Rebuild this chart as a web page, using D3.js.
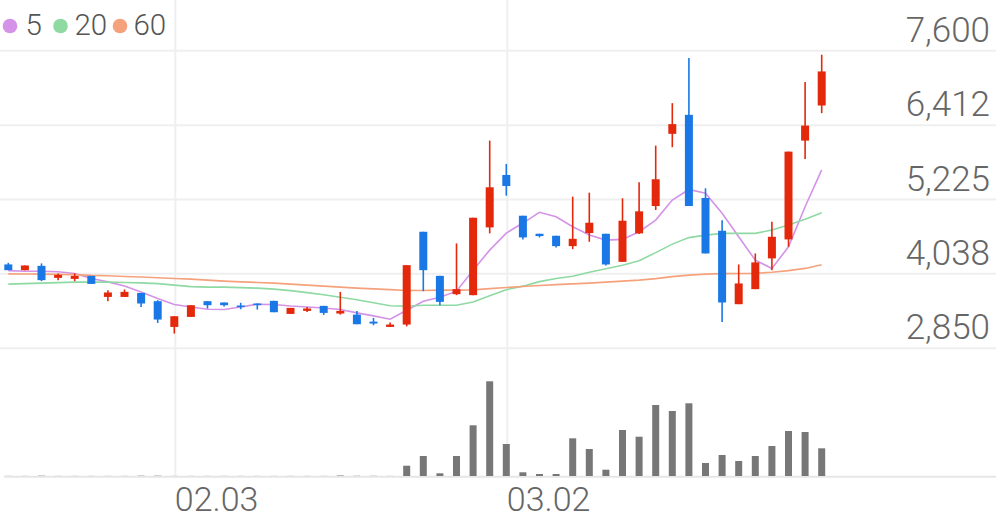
<!DOCTYPE html>
<html><head><meta charset="utf-8">
<script src="https://cdn.jsdelivr.net/npm/d3@7"></script>
<style>body{margin:0;background:#fff}svg{display:block}</style>
</head><body><svg id="c" width="996" height="519"></svg>
<script>
const dates = ["01.16","01.17","01.20","01.21","01.22","01.23","01.28","01.29","01.30","01.31",
  "02.03","02.04","02.05","02.06","02.07","02.10","02.11","02.12","02.13","02.14",
  "02.17","02.18","02.19","02.20","02.21","02.24","02.25","02.26","02.27","02.28",
  "03.02","03.03","03.04","03.05","03.06","03.09","03.10","03.11","03.12","03.13",
  "03.16","03.17","03.18","03.19","03.20","03.23","03.24","03.25","03.26","03.27"];
const open  = [4189,4097,4166,3974,3958,4006,3670,3670,3734,3602,3191,3351,3602,3581,3533,3565,3607,3399,3447,3527,3405,3388,3276,3191,3229,4710,4006,3714,3698,4780,5617,4966,4678,4646,4481,4689,4678,4230,4684,5121,6273,6576,5249,4726,3554,3794,4285,4588,6165,6725];
const high  = [4214,4172,4205,4045,4045,4006,3778,3789,3734,3618,3362,3538,3602,3581,3576,3565,3607,3495,3511,3527,3751,3447,3335,3261,4177,4710,4006,4524,4934,6165,5793,4966,4678,4646,5270,5334,4678,5244,5500,6085,6763,7483,5404,4892,4188,4364,4870,5989,7099,7536];
const low   = [4097,4097,3922,3938,3922,3878,3602,3670,3510,3255,3085,3351,3485,3517,3474,3469,3426,3399,3431,3383,3388,3234,3218,3191,3200,3762,3538,3698,3698,4684,5286,4588,4620,4460,4433,4550,4172,4230,4673,5057,6060,5121,4364,3271,3554,3794,4097,4470,5873,6603];
const close = [4097,4172,3938,4022,4006,3878,3741,3751,3565,3309,3362,3538,3538,3538,3511,3543,3426,3495,3485,3415,3447,3234,3245,3229,4177,4097,3591,3794,4934,5420,5441,4620,4641,4481,4598,4854,4188,4886,5036,5548,6428,5121,4364,3581,3885,4221,4630,5989,6405,7269];
const volume = [1,1,3,1,1,1,1,1,3,3,1,1,1,1,1,1,1,1,1,1,5,2,2,1,103,200,27,200,507,947,320,37,20,20,377,270,63,460,393,710,650,727,130,210,150,200,300,450,440,277];
const ma5  = [4090,4081,4081,4073,4045,3965,3910,3846,3750,3645,3549,3510,3474,3469,3510,3554,3549,3526,3510,3494,3469,3415,3367,3314,3458,3602,3666,3762,4097,4417,4689,4849,5020,4950,4790,4657,4577,4588,4710,4897,5217,5385,5324,5004,4630,4257,4125,4470,5110,5697];
const ma20 = [3874,3882,3890,3898,3906,3906,3906,3901,3894,3882,3858,3834,3826,3826,3818,3810,3794,3770,3738,3706,3666,3626,3578,3530,3522,3538,3538,3538,3590,3690,3786,3842,3914,3965,4001,4065,4121,4177,4249,4377,4513,4617,4657,4684,4684,4684,4737,4817,4908,5014];
const ma60 = [4038,4037,4034,4030,4026,4014,4008,3997,3987,3976,3965,3954,3938,3922,3910,3901,3890,3874,3858,3842,3826,3810,3798,3786,3773,3773,3778,3778,3782,3802,3821,3837,3853,3866,3878,3890,3906,3922,3938,3962,3994,4018,4034,4042,4045,4046,4065,4090,4125,4185];
const priceTicks = [2850, 4038, 5225, 6412, 7600];
const dateTicks = ["02.03", "03.02"];
const legendLabels = ["5", "20", "60"];

const W = 996, H = 519, SLOTS = 60;
const colors = {up:"#e3280c", down:"#1a78e6", ma:["#d493e8","#8fd9a3","#f5a27c"], vol:"#777777", grid:"#efefef", axis:"#e6e6e6", text:"#666666"};
const svg = d3.select("#c");
const idx = d3.range(dates.length);
const x = d3.scaleLinear().domain([-0.5, SLOTS - 0.5]).range([0, W]);
const y = d3.scaleLinear().domain([2850, 7600]).range([348.3, 50.7]);
const yv = d3.scaleLinear().domain([0, 1000]).range([476, 376]);
const fmt = d3.format(",");

// horizontal grid
svg.append("g").selectAll("line").data(priceTicks).join("line")
  .attr("x1", 0).attr("x2", W).attr("y1", d => y(d)).attr("y2", d => y(d))
  .attr("stroke", colors.grid).attr("stroke-width", 2);
// vertical grid
const tickIdx = dateTicks.map(t => dates.indexOf(t));
svg.append("g").selectAll("line").data(tickIdx).join("line")
  .attr("x1", d => x(d) + 1).attr("x2", d => x(d) + 1).attr("y1", 0).attr("y2", 476)
  .attr("stroke", colors.grid).attr("stroke-width", 2);
// volume axis line
svg.append("line").attr("x1", 4).attr("x2", W).attr("y1", 476.8).attr("y2", 476.8)
  .attr("stroke", colors.axis).attr("stroke-width", 2);

// volume bars
svg.append("g").selectAll("rect").data(idx).join("rect")
  .attr("x", i => x(i) - 3.5).attr("width", 7)
  .attr("y", i => yv(volume[i])).attr("height", i => yv(0) - yv(volume[i]))
  .attr("fill", colors.vol);

// MA lines
[ma5, ma20, ma60].forEach((arr, k) => {
  svg.append("path").datum(idx)
    .attr("fill", "none").attr("stroke", colors.ma[k]).attr("stroke-width", 1.6)
    .attr("d", d3.line().x(i => x(i)).y(i => y(arr[i])));
});

// candles
const cg = svg.append("g").selectAll("g").data(idx).join("g");
const col = i => close[i] >= open[i] ? colors.up : colors.down;
cg.append("line")
  .attr("x1", i => x(i)).attr("x2", i => x(i))
  .attr("y1", i => y(high[i])).attr("y2", i => y(low[i]))
  .attr("stroke", col).attr("stroke-width", 1.6);
cg.append("rect")
  .attr("x", i => x(i) - 4).attr("width", 8)
  .attr("y", i => y(Math.max(open[i], close[i])))
  .attr("height", i => Math.max(1.6, Math.abs(y(open[i]) - y(close[i]))))
  .attr("fill", col);

// price labels
svg.append("g").selectAll("text").data(priceTicks).join("text")
  .attr("x", 990).attr("y", d => y(d) - 9)
  .attr("text-anchor", "end")
  .attr("font-family", "Roboto").attr("font-weight", 300).attr("font-size", 35)
  .attr("fill", colors.text)
  .text(d => fmt(d));

// date labels
svg.append("g").selectAll("text").data(tickIdx).join("text")
  .attr("x", d => x(d) + 0.5).attr("y", 511)
  .attr("font-family", "Roboto").attr("font-weight", 300).attr("font-size", 34)
  .attr("fill", colors.text)
  .text(d => dates[d]);

// legend
const lx = [10, 60.5, 120];
const tx = [25.5, 74.5, 133.5];
const lg = svg.append("g");
legendLabels.forEach((t, k) => {
  lg.append("circle").attr("cx", lx[k]).attr("cy", 26).attr("r", 7.3).attr("fill", colors.ma[k]);
  lg.append("text").attr("x", tx[k]).attr("y", 34.5)
    .attr("font-family", "Roboto").attr("font-weight", 300).attr("font-size", 29.5).attr("fill", "#555555").text(t);
});
</script></body></html>
